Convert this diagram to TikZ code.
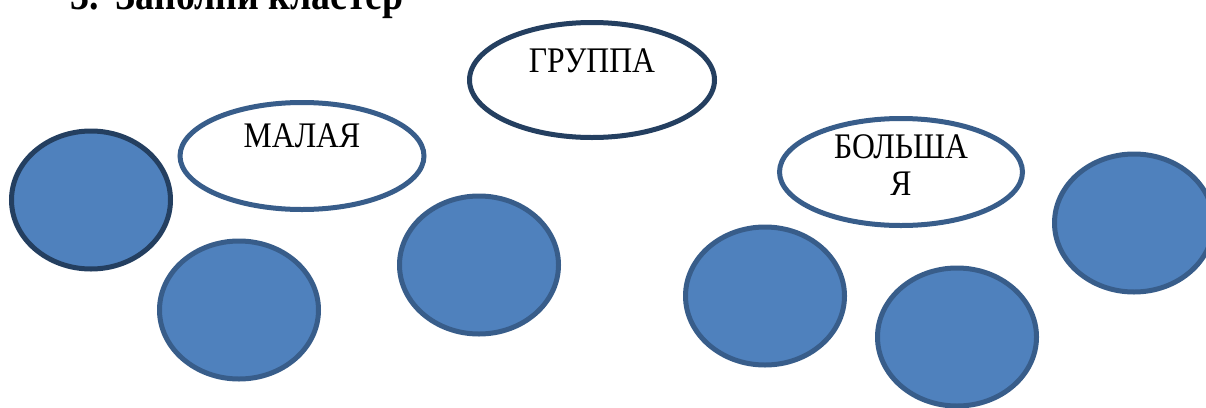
\documentclass[tikz,border=0pt]{standalone}
\usepackage{fontspec}
\setmainfont{Liberation Serif}[FakeStretch=0.88]
\usetikzlibrary{shapes.geometric, positioning}
\definecolor{blobfill}{HTML}{4F81BD}
\definecolor{blobline}{HTML}{385D8A}
\definecolor{darkline}{HTML}{243F60}
\tikzset{
    blob/.style={draw=blobline, fill=blobfill, ellipse, line width=5pt,
        minimum width=159pt, minimum height=138pt, inner sep=0pt},
    word/.style={draw=blobline, fill=white, ellipse, line width=5pt,
        minimum width=244pt, minimum height=108pt, inner sep=0pt},
    wordtext/.style={font=\fontsize{36}{37}\selectfont, align=center, inner sep=0pt}
}

\begin{document}
\begin{tikzpicture}[x=1pt, y=-1pt]
    \useasboundingbox (0,0) rectangle (1206,407);
    \clip (0,0) rectangle (1206,407);
    % title, cut off at the top
    \node[anchor=base west, inner sep=0pt, font=\bfseries\fontsize{43}{43}\selectfont] (title) at (70,9) {3.\hspace{0.4em}Заполни кластер};
    % ellipses with words
    \node[word, draw=darkline, minimum width=245pt, minimum height=115pt] (gruppa) at (592,80) {};
    \node[word, minimum height=107pt] (malaya) at (302,156) {};
    \node[word, minimum width=243pt, minimum height=107pt] (bolshaya) at (901,172) {};
    \node[wordtext, anchor=base] (gruppaT) at ([yshift=8pt]gruppa.center) {ГРУППА};
    \node[wordtext, anchor=base] (malayaT) at ([yshift=9pt]malaya.center) {МАЛАЯ};
    \node[wordtext, anchor=base] (bolshayaT) at ([yshift=-23pt]bolshaya.center) {БОЛЬША\\Я};
    % empty blue circles
    \node[blob, draw=darkline] (c1) at (91,200) {};
    \node[blob] (c2) at (239,310) {};
    \node[blob] (c3) at (479,265) {};
    \node[blob] (c4) at (765,296) {};
    \node[blob] (c5) at (957,337) {};
    \node[blob] (c6) at (1134,223) {};
\end{tikzpicture}
\end{document}
